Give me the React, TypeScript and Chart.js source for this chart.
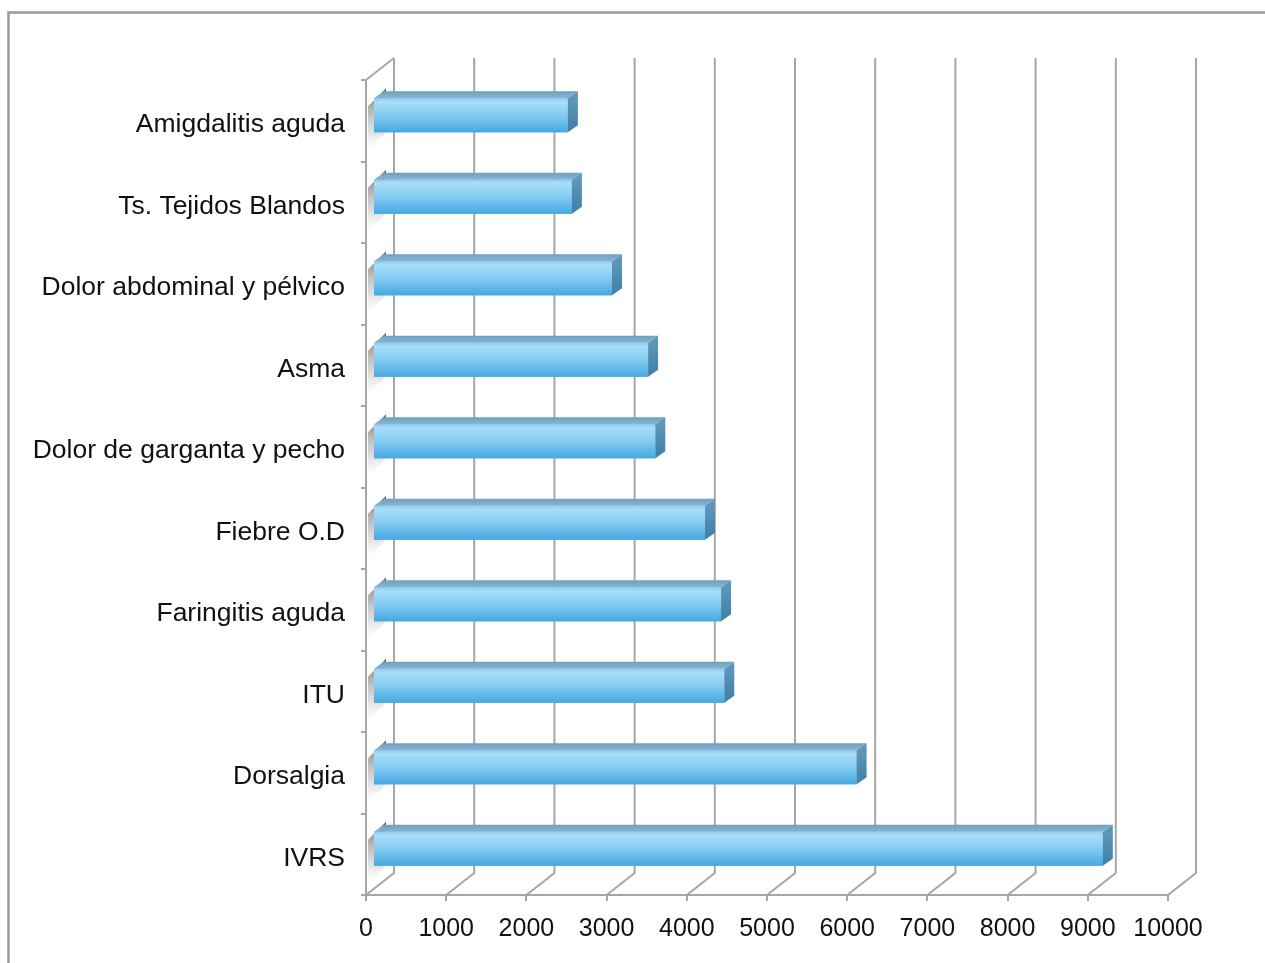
import { useEffect, useRef } from 'react';
import { Chart, registerables } from 'chart.js';

Chart.register(...registerables);

const categories = [
  'Amigdalitis aguda',
  'Ts. Tejidos Blandos',
  'Dolor abdominal y pélvico',
  'Asma',
  'Dolor de garganta y pecho',
  'Fiebre O.D',
  'Faringitis aguda',
  'ITU',
  'Dorsalgia',
  'IVRS',
];
const values = [2430, 2480, 2980, 3430, 3520, 4140, 4340, 4380, 6030, 9100];
const xMin = 0;
const xMax = 10000;
const xStep = 1000;

const GRID = '#a6a6a6';
const FONT = '"Liberation Sans", Arial, Helvetica, sans-serif';
const DX = 28, DY = -22; // wall depth
const BDX = 7, BDY = -5.5; // bar front-face offset
const SDX = 10, SDY = -7; // bar depth

const threeD = {
  id: 'threeD',
  beforeDraw(chart: any) {
    const ctx = chart.ctx;
    ctx.save();
    ctx.strokeStyle = '#9a9a9a';
    ctx.lineWidth = 2.5;
    ctx.beginPath();
    ctx.moveTo(1265, 12.5);
    ctx.lineTo(8.5, 12.5);
    ctx.lineTo(8.5, 963);
    ctx.stroke();
    ctx.restore();
  },
  beforeDatasetsDraw(chart: any) {
    const { ctx, chartArea: a, scales } = chart;
    const x = scales.x;
    ctx.save();
    ctx.strokeStyle = GRID;
    ctx.lineWidth = 2;
    // shadows on the left wall
    const meta = chart.getDatasetMeta(0);
    meta.data.forEach((el: any) => {
      const { y, height } = el.getProps(['y', 'height'], true);
      const t = y - height / 2 + BDY;
      const b = y + height / 2 + BDY;
      const x0 = a.left + 2, x1 = a.left + BDX + SDX + 3;
      const g = ctx.createLinearGradient(0, t - 10, 0, b + 18);
      g.addColorStop(0, 'rgba(70,70,70,0.85)');
      g.addColorStop(0.3, 'rgba(120,120,120,0.6)');
      g.addColorStop(0.7, 'rgba(170,170,170,0.35)');
      g.addColorStop(1, 'rgba(220,220,220,0)');
      ctx.fillStyle = g;
      ctx.beginPath();
      ctx.moveTo(x0, t + 8);
      ctx.lineTo(x1, t - 10);
      ctx.lineTo(x1, b);
      ctx.lineTo(x0, b + 18);
      ctx.closePath();
      ctx.fill();
    });
    for (const t of x.ticks) {
      const px = x.getPixelForValue(t.value);
      ctx.beginPath();
      ctx.moveTo(px + DX, a.top + DY);
      ctx.lineTo(px + DX, a.bottom + DY);
      ctx.lineTo(px, a.bottom);
      ctx.stroke();
    }
    ctx.beginPath();
    ctx.moveTo(a.left, a.top);
    ctx.lineTo(a.left + DX, a.top + DY);
    ctx.stroke();
    ctx.restore();
    ctx.save();
    ctx.translate(BDX, BDY);
  },
  afterDatasetsDraw(chart: any) {
    const ctx = chart.ctx;
    const meta = chart.getDatasetMeta(0);
    meta.data.forEach((el: any) => {
      const { x, y, base, height } = el.getProps(['x', 'y', 'base', 'height'], true);
      const t = y - height / 2;
      const b = y + height / 2;
      // front face
      const g = ctx.createLinearGradient(0, t, 0, b);
      g.addColorStop(0, '#8fcdee');
      g.addColorStop(0.12, '#a8def9');
      g.addColorStop(0.5, '#84cbf1');
      g.addColorStop(1, '#45a8e0');
      ctx.fillStyle = g;
      ctx.fillRect(base, t, x - base, height);
      // top face
      const gt = ctx.createLinearGradient(0, t + SDY, 0, t);
      gt.addColorStop(0, '#6e9fbf');
      gt.addColorStop(1, '#86b6d3');
      ctx.fillStyle = gt;
      ctx.beginPath();
      ctx.moveTo(base, t);
      ctx.lineTo(x, t);
      ctx.lineTo(x + SDX, t + SDY);
      ctx.lineTo(base + SDX, t + SDY);
      ctx.closePath();
      ctx.fill();
      // side face
      const gs = ctx.createLinearGradient(0, t, 0, b);
      gs.addColorStop(0, '#5e97bb');
      gs.addColorStop(1, '#3f7ea6');
      ctx.fillStyle = gs;
      ctx.beginPath();
      ctx.moveTo(x, t);
      ctx.lineTo(x + SDX, t + SDY);
      ctx.lineTo(x + SDX, b + SDY);
      ctx.lineTo(x, b);
      ctx.closePath();
      ctx.fill();
    });
    ctx.restore();
  },
};

export default function App() {
  const ref = useRef<HTMLCanvasElement>(null);
  useEffect(() => {
    if (!ref.current) return;
    const chart = new Chart(ref.current, {
      type: 'bar',
      data: {
        labels: categories,
        datasets: [
          {
            data: values,
            backgroundColor: '#7cc6ee',
            borderWidth: 0,
            categoryPercentage: 1,
            barPercentage: 0.42,
          },
        ],
      },
      options: {
        indexAxis: 'y',
        responsive: false,
        animation: false,
        layout: { padding: { left: 0, top: 80, right: 97, bottom: 0 } },
        plugins: { legend: { display: false }, tooltip: { enabled: false } },
        scales: {
          x: {
            min: xMin,
            max: xMax,
            ticks: {
              stepSize: xStep,
              color: '#111',
              font: { family: FONT, size: 25 },
              padding: 13,
              maxRotation: 0,
              callback: (v: any) => String(v),
            },
            grid: {
              drawOnChartArea: false,
              drawTicks: true,
              tickLength: 6,
              color: GRID,
              lineWidth: 2,
            },
            border: { display: true, color: GRID, width: 2 },
            afterFit: (s: any) => {
              s.height = 68;
            },
          },
          y: {
            ticks: {
              color: '#111',
              font: { family: FONT, size: 26.5 },
              padding: 16,
              labelOffset: 4,
            },
            grid: {
              offset: true,
              drawOnChartArea: false,
              drawTicks: true,
              tickLength: 5,
              color: GRID,
              lineWidth: 2,
            },
            border: { display: true, color: GRID, width: 2 },
            afterFit: (s: any) => {
              s.width = 366;
            },
          },
        },
      },
      plugins: [threeD],
    });
    return () => chart.destroy();
  }, []);
  return (
    <div style={{ position: 'absolute', left: 0, top: 0, width: 1265, height: 963, background: '#fff' }}>
      <canvas ref={ref} width={1265} height={963} style={{ display: 'block' }} />
    </div>
  );
}
